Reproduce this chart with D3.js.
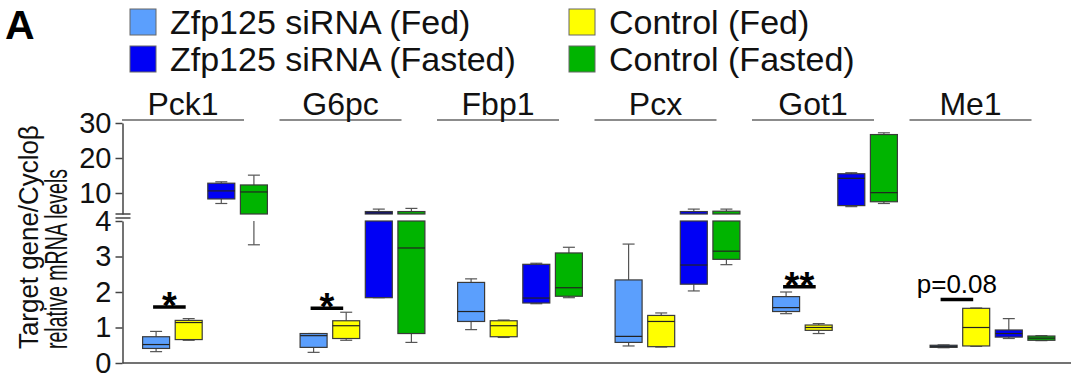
<!DOCTYPE html>
<html>
<head>
<meta charset="utf-8">
<script src="https://cdn.jsdelivr.net/npm/d3@7"></script>
<style>
  body { margin: 0; background: #fff; }
  svg { display: block; font-family: Arial, "Liberation Sans", sans-serif; }
  .axis path, .axis line { stroke: #444; stroke-width: 1.5; }
  .axis text { font-size: 29px; fill: #111; }
</style>
</head>
<body>
<svg id="chart"></svg>
<script>
// genes along the x axis
const genes = ['Pck1', 'G6pc', 'Fbp1', 'Pcx', 'Got1', 'Me1'];

// groups, in the order the boxes are drawn inside each gene
const groupKeys = ['zfpFed', 'ctrlFed', 'zfpFasted', 'ctrlFasted'];
const groupLabels = ['Zfp125 siRNA (Fed)', 'Control (Fed)', 'Zfp125 siRNA (Fasted)', 'Control (Fasted)'];
const groupColors = ['#5b9ffd', '#ffff00', '#0000f5', '#00b400'];

// [min, q1, median, q3, max] for each gene
const zfpFed = [
  [0.32, 0.41, 0.52, 0.74, 0.89],
  [0.30, 0.44, 0.77, 0.83, 0.83],
  [0.94, 1.17, 1.45, 2.27, 2.37],
  [0.48, 0.58, 0.75, 2.34, 3.35],
  [1.39, 1.45, 1.56, 1.87, 2.00],
  [0.43, 0.44, 0.47, 0.50, 0.51]
];
const ctrlFed = [
  [0.64, 0.66, 1.14, 1.20, 1.25],
  [0.64, 0.69, 1.05, 1.19, 1.43],
  [0.72, 0.74, 1.05, 1.19, 1.21],
  [0.45, 0.46, 1.17, 1.34, 1.41],
  [0.83, 0.92, 1.00, 1.07, 1.11],
  [0.47, 0.48, 1.00, 1.54, 1.55]
];
const zfpFasted = [
  [7.0, 8.3, 10.6, 12.8, 13.2],
  [1.84, 1.84, 4.3, 4.7, 5.4],
  [1.67, 1.69, 1.83, 2.78, 2.81],
  [2.03, 2.22, 2.76, 4.7, 5.4],
  [6.1, 6.4, 14.2, 15.5, 15.8],
  [0.69, 0.73, 0.83, 0.93, 1.25]
];
const ctrlFasted = [
  [3.33, 4.0, 10.3, 12.3, 15.1],
  [0.58, 0.83, 3.24, 4.7, 5.6],
  [1.84, 1.88, 2.12, 3.10, 3.26],
  [2.77, 2.92, 3.15, 4.8, 5.4],
  [7.0, 7.5, 10.1, 26.7, 27.2],
  [0.63, 0.64, 0.70, 0.76, 0.77]
];

// broken y axis: two segments
const lowerTicks = [0, 1, 2, 3, 4];
const upperTicks = [10, 20, 30];

// significance marks
const sigGenes = ['Pck1', 'G6pc', 'Got1', 'Me1'];
const sigLabels = ['*', '*', '**', 'p=0.08'];
const sigLevels = [1.58, 1.54, 2.15, 1.79];

const width = 1077, height = 375;
const svg = d3.select('#chart').attr('width', width).attr('height', height);

const seriesByGroup = { zfpFed, ctrlFed, zfpFasted, ctrlFasted };
const color = d3.scaleOrdinal().domain(groupKeys).range(groupColors);

// scales
const x = d3.scaleBand().domain(genes).range([126.25, 1071.25]);
const xInner = d3.scaleBand().domain(groupKeys).range([-62.4, 62.4]).paddingInner(0.172);
const yLow = d3.scaleLinear().domain([0, 4]).range([363, 221]);
const yHigh = d3.scaleLinear().domain([4, 30]).range([214, 123]);
const segments = [yLow, yHigh];
const axisX = 122.5;

const center = g => x(g) + x.bandwidth() / 2;

// panel letter
svg.append('text')
    .attr('x', 5).attr('y', 39)
    .style('font-size', '41px').style('font-weight', 'bold')
    .text('A');

// legend
const legendPos = {
  zfpFed: [130, 9], zfpFasted: [130, 46],
  ctrlFed: [569, 9], ctrlFasted: [569, 46]
};
groupKeys.forEach((k, i) => {
  const [lx, ly] = legendPos[k];
  svg.append('rect')
      .attr('x', lx).attr('y', ly).attr('width', 26).attr('height', 26)
      .attr('fill', color(k)).attr('stroke', '#666').attr('stroke-width', 1);
  svg.append('text')
      .attr('x', lx + 40).attr('y', ly + 25)
      .style('font-size', '34px').attr('fill', '#111')
      .text(groupLabels[i]);
});

// gene headers
const headers = svg.append('g');
genes.forEach(g => {
  const c = center(g) - 22;
  headers.append('line')
      .attr('x1', c - 61).attr('x2', c + 61)
      .attr('y1', 120).attr('y2', 120)
      .attr('stroke', '#666').attr('stroke-width', 1.5);
  headers.append('text')
      .attr('x', c).attr('y', 115)
      .attr('text-anchor', 'middle')
      .style('font-size', '32px').attr('fill', '#111')
      .text(g);
});

// y axis, two pieces
svg.append('g')
    .attr('class', 'axis')
    .attr('transform', `translate(${axisX},0)`)
    .call(d3.axisLeft(yLow).tickValues(lowerTicks).tickFormat(d3.format('d'))
      .tickSize(7).tickSizeOuter(0).tickPadding(4));
svg.append('g')
    .attr('class', 'axis')
    .attr('transform', `translate(${axisX},0)`)
    .call(d3.axisLeft(yHigh).tickValues(upperTicks).tickFormat(d3.format('d'))
      .tickSize(7).tickSizeOuter(0).tickPadding(4));

// break marks
[yHigh(4), yLow(4) - 3].forEach(yb => {
  svg.append('line')
      .attr('x1', axisX - 7).attr('x2', axisX + 8)
      .attr('y1', yb).attr('y2', yb)
      .attr('stroke', '#444').attr('stroke-width', 1.5);
});

// x axis line
svg.append('line')
    .attr('x1', axisX).attr('x2', 1071)
    .attr('y1', yLow(0)).attr('y2', yLow(0))
    .attr('stroke', '#444').attr('stroke-width', 1.5);

// y axis title (second line is condensed in the original)
const yTitle = svg.append('g').attr('transform', 'translate(0,349) rotate(-90)');
yTitle.append('text')
    .attr('x', 0).attr('y', 38)
    .style('font-size', '27px').attr('fill', '#111')
    .attr('transform', 'scale(0.96,1)')
    .text('Target gene/Cycloβ');
yTitle.append('text')
    .attr('x', 0).attr('y', 67)
    .attr('transform', 'scale(0.63,1)')
    .style('font-size', '31px').attr('fill', '#111')
    .text('relative mRNA levels');

// flatten boxes
const rows = [];
groupKeys.forEach(k => {
  genes.forEach((g, i) => rows.push({ gene: g, key: k, stats: seriesByGroup[k][i] }));
});

const plot = svg.append('g');
const bw = xInner.bandwidth();
const capW = 12;

segments.forEach(y => {
  const [lo, hi] = y.domain();
  const clip = v => Math.max(lo, Math.min(hi, v));
  rows.forEach(d => {
    const bx = center(d.gene) + xInner(d.key);
    const cx = bx + bw / 2;
    const [mn, q1, md, q3, mx] = d.stats;

    // whiskers
    if (mx > lo && q3 < hi) {
      plot.append('line').attr('x1', cx).attr('x2', cx)
          .attr('y1', y(clip(q3))).attr('y2', y(clip(mx)))
          .attr('stroke', '#555').attr('stroke-width', 1.2);
    }
    if (mn < hi && q1 > lo) {
      plot.append('line').attr('x1', cx).attr('x2', cx)
          .attr('y1', y(clip(q1))).attr('y2', y(clip(mn)))
          .attr('stroke', '#555').attr('stroke-width', 1.2);
    }
    [mn, mx].forEach(v => {
      if (v >= lo && v <= hi) {
        plot.append('line').attr('x1', cx - capW / 2).attr('x2', cx + capW / 2)
            .attr('y1', y(v)).attr('y2', y(v))
            .attr('stroke', '#555').attr('stroke-width', 1.2);
      }
    });

    // box
    if (q3 > lo && q1 < hi) {
      plot.append('rect')
          .attr('x', bx).attr('width', bw)
          .attr('y', y(clip(q3)))
          .attr('height', Math.max(1, y(clip(q1)) - y(clip(q3))))
          .attr('fill', color(d.key))
          .attr('stroke', '#3a3a3a').attr('stroke-width', 1.2);
    }
    if (md >= lo && md <= hi) {
      plot.append('line').attr('x1', bx).attr('x2', bx + bw)
          .attr('y1', y(md)).attr('y2', y(md))
          .attr('stroke', '#222').attr('stroke-width', 1.2);
    }
  });
});

// significance bars
const bxCenter = (g, k) => center(g) + xInner(k) + bw / 2;
sigGenes.forEach((g, i) => {
  const x1 = bxCenter(g, 'zfpFed') - 3;
  const x2 = bxCenter(g, 'ctrlFed') - 3;
  const yb = yLow(sigLevels[i]);
  plot.append('line')
      .attr('x1', x1).attr('x2', x2).attr('y1', yb).attr('y2', yb)
      .attr('stroke', '#000').attr('stroke-width', 3.5);
  const isStar = sigLabels[i].startsWith('*');
  plot.append('text')
      .attr('x', (x1 + x2) / 2)
      .attr('y', isStar ? yb + 12 : yb - 6)
      .attr('text-anchor', 'middle')
      .style('font-size', isStar ? '38px' : '26px')
      .style('font-weight', isStar ? 'bold' : 'normal')
      .attr('fill', '#000')
      .text(sigLabels[i]);
});
</script>
</body>
</html>
